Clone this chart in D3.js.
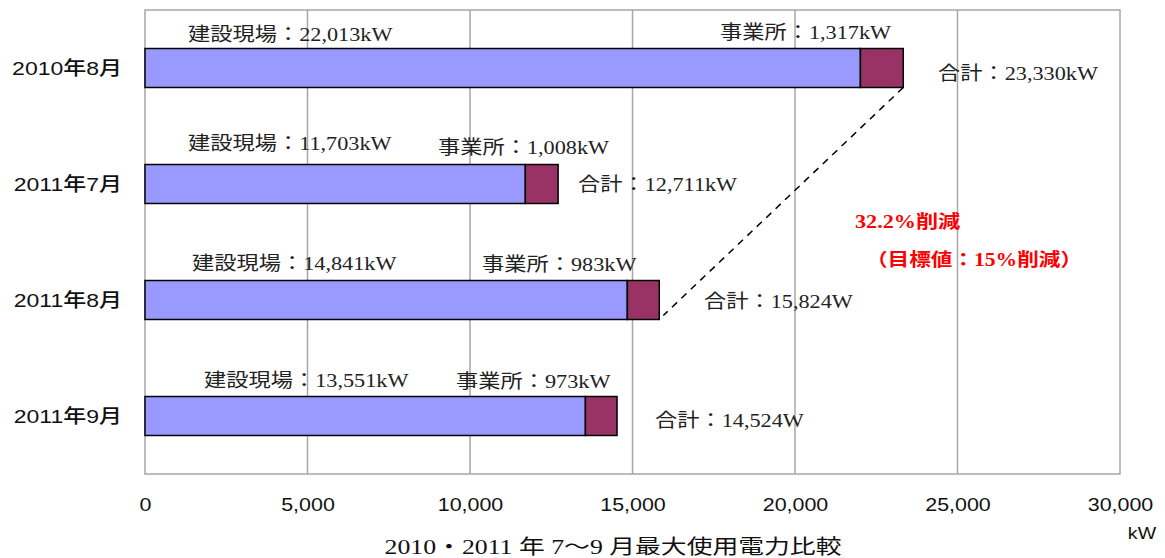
<!DOCTYPE html>
<html><head><meta charset="utf-8">
<script src="https://cdn.jsdelivr.net/npm/d3@7"></script>
<style>
body{margin:0;background:#fff;}
svg{display:block;}
.serif{font-family:"Liberation Serif","DejaVu Serif","Noto Sans CJK JP",serif;}
</style></head><body>
<svg id="c" width="1165" height="558"></svg>
<script>
// ---- data ----
const categories = ["2010年8月", "2011年7月", "2011年8月", "2011年9月"];
const siteValues = [22013, 11703, 14841, 13551];
const officeValues = [1317, 1008, 983, 973];
const siteLabels = ["建設現場：22,013kW", "建設現場：11,703kW", "建設現場：14,841kW", "建設現場：13,551kW"];
const officeLabels = ["事業所：1,317kW", "事業所：1,008kW", "事業所：983kW", "事業所：973kW"];
const totalLabels = ["合計：23,330kW", "合計：12,711kW", "合計：15,824W", "合計：14,524W"];
const xTicks = [0, 5000, 10000, 15000, 20000, 25000, 30000];
const unitLabel = "kW";
const title = "2010・2011 年 7〜9 月最大使用電力比較";
const noteLines = ["32.2%削減", "（目標値：15%削減）"];

// ---- layout (label anchor positions, px) ----
const siteLabelPos = [[188, 34], [188, 143], [192, 263], [204, 380]];
const officeLabelPos = [[720, 32], [438, 147], [482, 264], [456, 381]];
const totalLabelPos = [[938, 73], [578, 184], [704, 301], [655, 420]];

// horizontal stretch of text (the reference is horizontally widened)
function stretch(sel, f) {
  sel.each(function () {
    const w = this.getComputedTextLength();
    d3.select(this).attr("textLength", w * f).attr("lengthAdjust", "spacingAndGlyphs");
  });
}

const svg = d3.select("#c");
const L = 145, R = 1120, T = 10, B = 474;
const x = d3.scaleLinear().domain([0, 30000]).range([L, R]);
const y = d3.scaleBand().domain(categories).range([T, B]).paddingInner(0.664).paddingOuter(0.332);

// gridlines
svg.append("g").selectAll("line").data(xTicks.slice(1, -1)).join("line")
  .attr("x1", d => x(d)).attr("x2", d => x(d)).attr("y1", T).attr("y2", B)
  .attr("stroke", "#a6a6a6").attr("stroke-width", 1.5);
// plot border
svg.append("rect").attr("x", L).attr("y", T).attr("width", R - L).attr("height", B - T)
  .attr("fill", "none").attr("stroke", "#a6a6a6").attr("stroke-width", 1.5);

// axis tick labels
const xAxis = d3.axisBottom(x).tickValues(xTicks).tickSize(0).tickPadding(0)
  .tickFormat(d3.format(","));
const ax = svg.append("g").attr("transform", `translate(0,${B})`).call(xAxis);
ax.select(".domain").remove();
ax.selectAll("text").attr("dy", null).attr("y", 37)
  .attr("font-family", "Liberation Sans, Arial, sans-serif").attr("font-size", 18).attr("fill", "#111")
  .call(stretch, 1.19);
svg.append("text").attr("x", 1142).attr("y", 539).attr("text-anchor", "middle")
  .attr("font-family", "Liberation Sans, Arial, sans-serif").attr("font-size", 17).attr("fill", "#111")
  .text(unitLabel).call(stretch, 1.15);

// category labels
const yAxis = d3.axisLeft(y).tickSize(0).tickPadding(0);
const ay = svg.append("g").attr("transform", `translate(122,0)`).call(yAxis);
ay.select(".domain").remove();
ay.selectAll("text").attr("x", 0).attr("dy", "0.36em")
  .attr("font-family", "Liberation Sans, 'Noto Sans CJK JP', sans-serif")
  .attr("font-size", 19).attr("font-weight", 500).attr("fill", "#111")
  .call(stretch, 1.21);

// bars
const g = svg.append("g");
g.selectAll("rect.site").data(categories).join("rect").attr("class", "site")
  .attr("x", x(0)).attr("y", d => y(d)).attr("height", y.bandwidth())
  .attr("width", (d, i) => x(siteValues[i]) - x(0))
  .attr("fill", "#9999ff").attr("stroke", "#000").attr("stroke-width", 1.5);
g.selectAll("rect.office").data(categories).join("rect").attr("class", "office")
  .attr("x", (d, i) => x(siteValues[i])).attr("y", d => y(d)).attr("height", y.bandwidth())
  .attr("width", (d, i) => x(siteValues[i] + officeValues[i]) - x(siteValues[i]))
  .attr("fill", "#993366").attr("stroke", "#000").attr("stroke-width", 1.5);

// dashed connector from 2010/8 total to 2011/8 total
const tot = (i) => siteValues[i] + officeValues[i];
svg.append("line")
  .attr("x1", x(tot(0))).attr("y1", y(categories[0]) + y.bandwidth())
  .attr("x2", x(tot(2)) + 4).attr("y2", y(categories[2]) + y.bandwidth() - 4)
  .attr("stroke", "#000").attr("stroke-width", 1.5).attr("stroke-dasharray", "7,6");

// value labels
function labels(arr, pos) {
  svg.append("g").selectAll("text").data(arr).join("text").attr("class", "serif")
    .attr("x", (d, i) => pos[i][0]).attr("y", (d, i) => pos[i][1]).attr("dy", "0.35em")
    .attr("font-size", 19).attr("fill", "#222").text(d => d)
    .call(stretch, 1.17);
}
labels(siteLabels, siteLabelPos);
labels(officeLabels, officeLabelPos);
labels(totalLabels, totalLabelPos);

// red note
svg.append("text").attr("class", "serif").attr("x", 855).attr("y", 222).attr("dy", "0.35em")
  .attr("font-size", 18).attr("font-weight", "bold").attr("fill", "#ff0000").text(noteLines[0])
  .call(stretch, 1.23);
svg.append("text").attr("class", "serif").attr("x", 866).attr("y", 260).attr("dy", "0.35em")
  .attr("font-size", 18).attr("font-weight", "bold").attr("fill", "#ff0000").text(noteLines[1])
  .call(stretch, 1.2);

// title
svg.append("text").attr("class", "serif").attr("x", 613).attr("y", 547).attr("dy", "0.35em")
  .attr("text-anchor", "middle").attr("font-size", 20).attr("fill", "#111").text(title)
  .call(stretch, 1.29);
</script></body></html>
